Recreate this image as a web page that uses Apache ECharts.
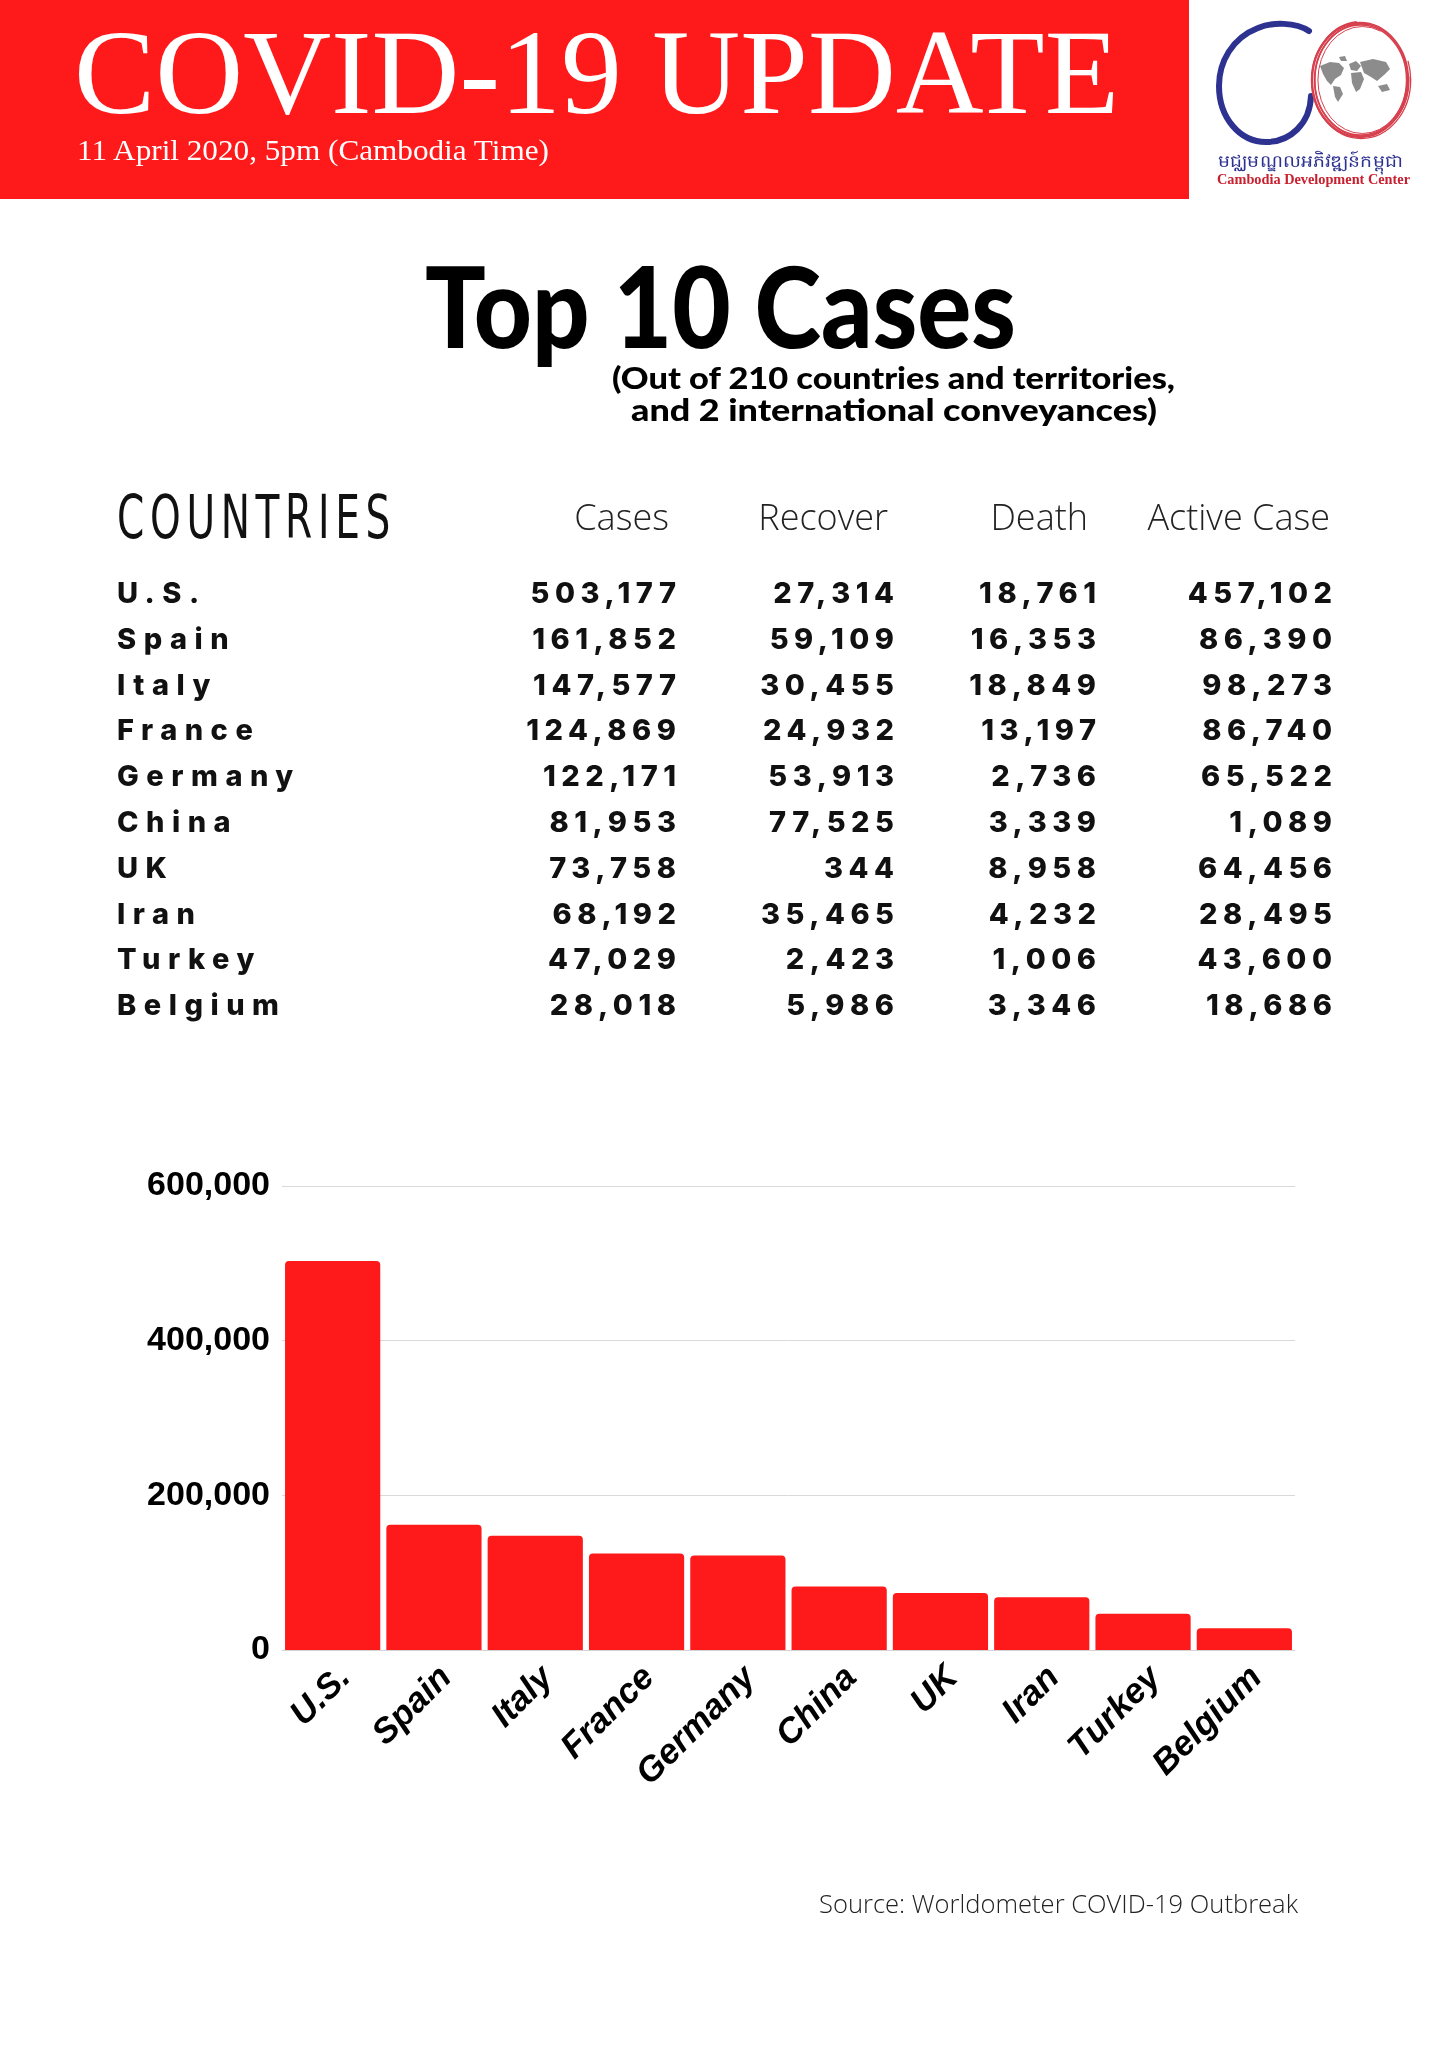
<!DOCTYPE html>
<html>
<head>
<meta charset="utf-8">
<title>COVID-19 Update - Top 10 Cases</title>
<script src="https://cdn.jsdelivr.net/npm/echarts@6/dist/echarts.min.js"></script>
<style>
  body { margin: 0; background: #fff; }
  #page { position: relative; width: 1448px; height: 2048px; overflow: hidden; background: #fff; }
  #chart { position: absolute; left: 0; top: 0; width: 1448px; height: 2048px; }
  #overlay { position: absolute; left: 0; top: 0; pointer-events: none; }
</style>
</head>
<body>
<div id="page">
  <div id="chart"></div>
  <svg id="overlay" width="1448" height="2048" xmlns="http://www.w3.org/2000/svg"></svg>
</div>
<script>
var countries = ['U.S.', 'Spain', 'Italy', 'France', 'Germany', 'China', 'UK', 'Iran', 'Turkey', 'Belgium'];
var cases     = [503177, 161852, 147577, 124869, 122171, 81953, 73758, 68192, 47029, 28018];
var recovered = [27314, 59109, 30455, 24932, 53913, 77525, 344, 35465, 2423, 5986];
var deaths    = [18761, 16353, 18849, 13197, 2736, 3339, 8958, 4232, 1006, 3346];
var active    = [457102, 86390, 98273, 86740, 65522, 1089, 64456, 28495, 43600, 18686];
var columnTitles = ['Cases', 'Recover', 'Death', 'Active Case'];
var yTicks = [0, 200000, 400000, 600000];

var RED = '#fe1a1b';
var fmt = function (v) { return v.toLocaleString('en-US'); };

// ---- bar chart ----
var myChart = echarts.init(document.getElementById('chart'));
var option = {
  animation: false,
  grid: { left: 282, right: 153, top: 1186, height: 464 },
  xAxis: {
    type: 'category',
    data: countries,
    axisLine: { lineStyle: { color: '#d4d4d4', width: 1 } },
    axisTick: { show: false },
    axisLabel: {
      interval: 0,
      rotate: 45,
      margin: 10,
      verticalAlign: 'top',
      color: '#000',
      fontFamily: 'Liberation Sans, Arial, sans-serif',
      fontWeight: 'bold',
      fontStyle: 'italic',
      fontSize: 35
    }
  },
  yAxis: {
    type: 'value',
    min: yTicks[0],
    max: yTicks[yTicks.length - 1],
    interval: yTicks[1] - yTicks[0],
    axisLine: { show: false },
    axisTick: { show: false },
    splitLine: { lineStyle: { color: '#d9d9d9', width: 1 } },
    axisLabel: {
      margin: 12,
      color: '#000',
      fontFamily: 'Liberation Sans, Arial, sans-serif',
      fontWeight: 'bold',
      fontSize: 34,
      formatter: fmt
    }
  },
  series: [{
    type: 'bar',
    data: cases,
    barCategoryGap: '6%',
    itemStyle: { color: RED, borderRadius: [4, 4, 0, 0] }
  }]
};
myChart.setOption(option);

// ---- texts, table and logo on an svg layer ----
var svg = document.getElementById('overlay');
var NS = 'http://www.w3.org/2000/svg';
function el(tag, attrs, txt) {
  var e = document.createElementNS(NS, tag);
  for (var k in attrs) e.setAttribute(k, attrs[k]);
  if (txt != null) e.textContent = txt;
  svg.appendChild(e);
  return e;
}

// header band
el('rect', { x: 0, y: 0, width: 1189, height: 199, fill: RED });
el('text', { x: 74, y: 113, 'font-family': 'Liberation Serif, serif', 'font-size': 121, fill: '#fff',
  textLength: 1045, lengthAdjust: 'spacingAndGlyphs' }, 'COVID-19 UPDATE');
el('text', { x: 77, y: 160, 'font-family': 'Liberation Serif, serif', 'font-size': 30, fill: '#fff',
  textLength: 472, lengthAdjust: 'spacingAndGlyphs' }, '11 April 2020, 5pm (Cambodia Time)');

// logo
el('path', { d: 'M 1309 31 C 1296 22 1272 22 1258 28 C 1232 38 1219 62 1219 86 C 1219 118 1240 142 1266 142 C 1290 142 1310 124 1311 96',
  fill: 'none', stroke: '#2d3190', 'stroke-width': 6, 'stroke-linecap': 'round' });
[[48, 57, 2.4], [46, 55, 1.6], [49.5, 58.5, 1.3], [47, 56, 1.5], [44.5, 53.5, 1]].forEach(function (r, i) {
  el('ellipse', { cx: 1360 + i * 0.6, cy: 80, rx: r[0], ry: r[1], fill: 'none', stroke: '#d7404e',
    'stroke-width': r[2], 'stroke-dasharray': i >= 2 ? '250 70' : 'none' });
});
// rough world map
var mapParts = [
  'M 1320 66 L 1330 62 L 1339 63 L 1344 68 L 1341 75 L 1335 79 L 1331 85 L 1327 81 L 1323 74 Z',
  'M 1333 86 L 1340 87 L 1343 94 L 1338 102 L 1335 97 Z',
  'M 1349 64 L 1356 61 L 1361 66 L 1357 71 L 1351 70 Z',
  'M 1351 73 L 1361 72 L 1364 79 L 1360 89 L 1356 92 L 1352 83 Z',
  'M 1360 62 L 1373 59 L 1386 62 L 1390 69 L 1384 75 L 1377 81 L 1371 77 L 1364 73 Z',
  'M 1378 86 L 1387 84 L 1390 90 L 1382 92 Z',
  'M 1339 57 L 1345 56 L 1347 61 L 1341 61 Z'
];
mapParts.forEach(function (d) { el('path', { d: d, fill: '#8c8c8c' }); });
el('text', { x: 1310, y: 167, 'text-anchor': 'middle', 'font-family': 'Noto Sans, DejaVu Sans, sans-serif',
  'font-size': 17, fill: '#2d3190', textLength: 185, lengthAdjust: 'spacingAndGlyphs' }, 'មជ្ឈមណ្ឌលអភិវឌ្ឍន៍កម្ពុជា');
el('text', { x: 1217, y: 184, 'font-family': 'Liberation Serif, serif', 'font-weight': 'bold',
  'font-size': 14, fill: '#c8202f', textLength: 193, lengthAdjust: 'spacingAndGlyphs' }, 'Cambodia Development Center');

// titles
el('text', { x: 425, y: 348, 'font-family': 'Lato, sans-serif', 'font-weight': 900, 'font-size': 113,
  fill: '#000', textLength: 591, lengthAdjust: 'spacingAndGlyphs' }, 'Top 10 Cases');
el('text', { x: 612, y: 389, 'font-family': 'Lato, sans-serif', 'font-weight': 900, 'font-size': 31,
  fill: '#000', textLength: 563, lengthAdjust: 'spacingAndGlyphs' }, '(Out of 210 countries and territories,');
el('text', { x: 631, y: 421, 'font-family': 'Lato, sans-serif', 'font-weight': 900, 'font-size': 31,
  fill: '#000', textLength: 526, lengthAdjust: 'spacingAndGlyphs' }, 'and 2 international conveyances)');

// table
el('text', { x: 117, y: 538, 'font-family': 'Liberation Sans Narrow, DejaVu Sans Condensed, sans-serif',
  'font-size': 61, 'letter-spacing': 8, fill: '#111', textLength: 279,
  lengthAdjust: 'spacingAndGlyphs' }, 'COUNTRIES');

var headRight = [669, 888, 1088, 1330];
columnTitles.forEach(function (t, i) {
  el('text', { x: headRight[i], y: 530, 'text-anchor': 'end', 'font-family': 'Open Sans, sans-serif',
    'font-weight': 300, 'font-size': 36, fill: '#222' }, t);
});

var numRight = [676, 894, 1096, 1332];
var cols = [cases, recovered, deaths, active];
var ls = 5.5;
countries.forEach(function (c, r) {
  var y = 603 + r * 45.8;
  el('text', { x: 117, y: y, 'font-family': 'Inter, sans-serif', 'font-weight': 800, 'font-size': 29,
    'letter-spacing': 7.5, fill: '#111' }, c);
  cols.forEach(function (col, j) {
    el('text', { x: numRight[j] + ls, y: y, 'text-anchor': 'end', 'font-family': 'Inter, sans-serif',
      'font-weight': 800, 'font-size': 29, 'letter-spacing': ls, fill: '#111' }, fmt(col[r]));
  });
});

// source
el('text', { x: 819, y: 1913, 'font-family': 'Open Sans, sans-serif', 'font-weight': 300,
  'font-size': 26, fill: '#222', textLength: 479, lengthAdjust: 'spacingAndGlyphs' }, 'Source: Worldometer COVID-19 Outbreak');

window.onresize = myChart.resize;
</script>
</body>
</html>
